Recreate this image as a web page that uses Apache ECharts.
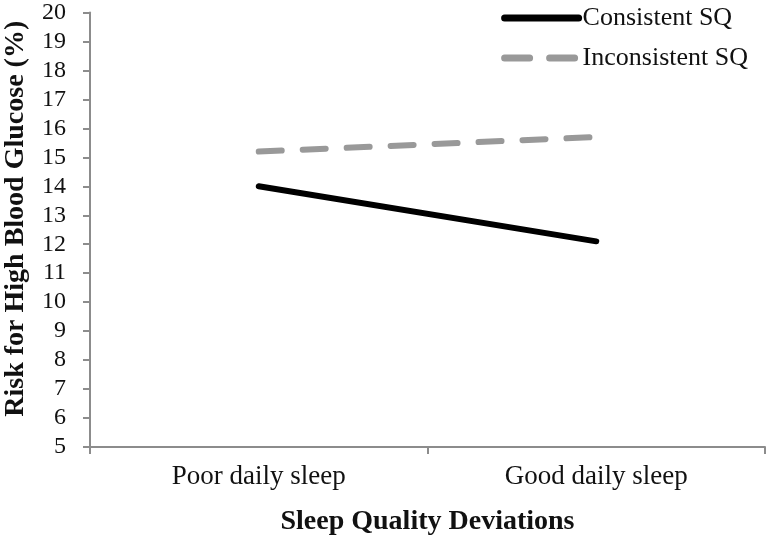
<!DOCTYPE html>
<html>
<head>
<meta charset="utf-8">
<script src="https://cdn.jsdelivr.net/npm/echarts@6/dist/echarts.min.js"></script>
<style>
  html, body { margin: 0; padding: 0; background: #fff; }
  #chart { width: 770px; height: 540px; }
</style>
</head>
<body>
<div id="chart"></div>
<script>
// data
const categories = ['Poor daily sleep', 'Good daily sleep']
const consistentSQ = [14.0, 12.1]
const inconsistentSQ = [15.2, 15.7]
const seriesNames = ['Consistent SQ', 'Inconsistent SQ']

const serif = 'Liberation Serif'
const chart = echarts.init(document.getElementById('chart'))

const option = {
  animation: false,
  backgroundColor: '#fff',
  legend: {
    data: [
      { name: seriesNames[0], lineStyle: { width: 7 } },
      { name: seriesNames[1], lineStyle: { width: 7, type: [25, 20] } }
    ],
    orient: 'vertical',
    right: 17,
    top: 0,
    itemWidth: 74,
    itemHeight: 14,
    itemGap: 14,
    itemStyle: { opacity: 0 },
    textStyle: { fontFamily: serif, fontSize: 26, color: '#111', padding: [0, 0, 0, -1] }
  },
  grid: {
    left: 90,
    right: 5,
    top: 12.5,
    bottom: 93,
    outerBoundsMode: 'none'
  },
  xAxis: {
    type: 'category',
    data: categories,
    boundaryGap: true,
    name: 'Sleep Quality Deviations',
    nameLocation: 'middle',
    nameGap: 61,
    nameTextStyle: { fontFamily: serif, fontSize: 28, fontWeight: 'bold', color: '#111' },
    axisLine: { lineStyle: { color: '#8c8c8c', width: 2 } },
    axisTick: { show: true, interval: 0, length: 7, lineStyle: { color: '#8c8c8c', width: 2 } },
    axisLabel: { fontFamily: serif, fontSize: 27, color: '#111', margin: 16 }
  },
  yAxis: {
    type: 'value',
    min: 5,
    max: 20,
    interval: 1,
    name: 'Risk for High Blood Glucose (%)',
    nameLocation: 'middle',
    nameGap: 60,
    nameTextStyle: { fontFamily: serif, fontSize: 28, fontWeight: 'bold', color: '#111', padding: [0, 0, 0, 22] },
    axisLine: { show: true, lineStyle: { color: '#8c8c8c', width: 2 } },
    axisTick: { show: true, length: 7, lineStyle: { color: '#8c8c8c', width: 2 } },
    axisLabel: { fontFamily: serif, fontSize: 24, color: '#111', margin: 24 },
    splitLine: { show: false }
  },
  series: [
    {
      name: seriesNames[0],
      type: 'line',
      data: consistentSQ,
      symbol: 'none',
      color: '#000',
      lineStyle: { color: '#000', width: 6, cap: 'round' }
    },
    {
      name: seriesNames[1],
      type: 'line',
      data: inconsistentSQ,
      symbol: 'none',
      color: '#999',
      lineStyle: { color: '#999', width: 6, type: [23, 21], cap: 'round' }
    }
  ]
}

chart.setOption(option)
</script>
</body>
</html>
